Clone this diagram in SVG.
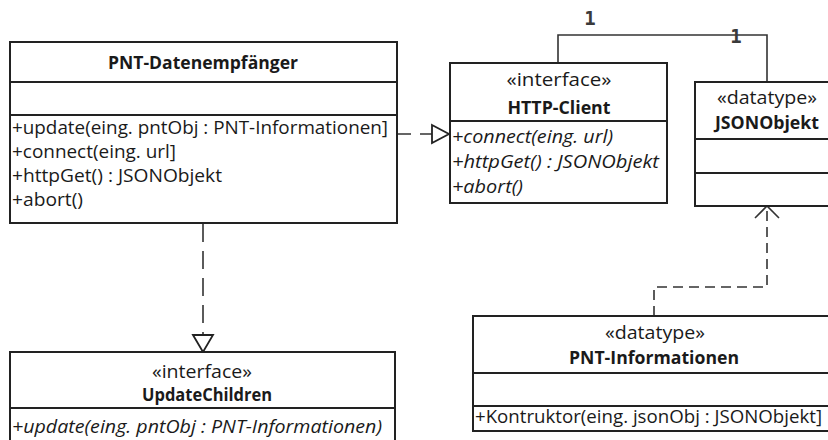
<svg xmlns="http://www.w3.org/2000/svg" width="828" height="440" viewBox="0 0 828 440">
  <style>
    .box { fill: #ffffff; stroke: #222222; stroke-width: 2; }
    .div { stroke: #222222; stroke-width: 2; fill: none; }
    .t { font-family: "Open Sans", "Liberation Sans", sans-serif; font-size: 18.5px; fill: #1a1a1a; }
    .b { font-weight: bold; }
    .i { font-style: italic; }
    .c { text-anchor: middle; }
    .line { stroke: #333333; stroke-width: 1.6; fill: none; }
    .dash1 { stroke-dasharray: 14 9; }
    .dash2 { stroke-dasharray: 18 9; }
    .dash3 { stroke-dasharray: 10 6; }
    .head { fill: #ffffff; stroke: #222222; stroke-width: 1.8; }
    .open { fill: none; stroke: #333333; stroke-width: 1.6; }
    .mult { font-family: "DejaVu Sans Mono", "Liberation Mono", monospace; font-size: 19px; font-weight: bold; fill: #3a3a3a; text-anchor: middle; }
  </style>

  <!-- connectors -->
  <g id="connectors">
    <!-- association HTTP-Client to JSONObjekt -->
    <path class="line" d="M558 63 V35 H767 V82"/>
    <text class="mult" x="590" y="25">1</text>
    <text class="mult" x="736" y="43">1</text>
    <!-- realization PNT-Datenempfaenger to HTTP-Client -->
    <path class="line dash1" d="M397 134 H432"/>
    <polygon class="head" points="432,125 449,134 432,143"/>
    <!-- realization PNT-Datenempfaenger to UpdateChildren -->
    <path class="line dash2" d="M203 224 V335"/>
    <polygon class="head" points="193,335 203,352 213,335"/>
    <!-- dependency PNT-Informationen to JSONObjekt -->
    <path class="line dash3" d="M654 316 V287 H767 V208"/>
    <polyline class="open" points="755,218 767,206 779,218"/>
  </g>

  <g id="pnt-datenempfaenger">
    <rect class="box" x="10" y="42" width="387" height="181"/>
    <line class="div" x1="10" y1="82" x2="397" y2="82"/>
    <line class="div" x1="10" y1="115" x2="397" y2="115"/>
    <text class="t b c" x="203" y="69" textLength="190" lengthAdjust="spacingAndGlyphs">PNT-Datenempfänger</text>
    <text class="t" x="12" y="134" textLength="376" lengthAdjust="spacingAndGlyphs">+update(eing. pntObj : PNT-Informationen]</text>
    <text class="t" x="12" y="158" textLength="164" lengthAdjust="spacingAndGlyphs">+connect(eing. url]</text>
    <text class="t" x="12" y="182" textLength="210" lengthAdjust="spacingAndGlyphs">+httpGet() : JSONObjekt</text>
    <text class="t" x="12" y="206" textLength="71" lengthAdjust="spacingAndGlyphs">+abort()</text>
  </g>

  <g id="http-client">
    <rect class="box" x="450" y="63" width="217" height="140"/>
    <line class="div" x1="450" y1="121" x2="667" y2="121"/>
    <text class="t c" x="559" y="86" textLength="105" lengthAdjust="spacingAndGlyphs">«interface»</text>
    <text class="t b c" x="559" y="114" textLength="103" lengthAdjust="spacingAndGlyphs">HTTP-Client</text>
    <text class="t i" x="452" y="143" textLength="161" lengthAdjust="spacingAndGlyphs">+connect(eing. url)</text>
    <text class="t i" x="452" y="168" textLength="207" lengthAdjust="spacingAndGlyphs">+httpGet() : JSONObjekt</text>
    <text class="t i" x="452" y="193" textLength="71" lengthAdjust="spacingAndGlyphs">+abort()</text>
  </g>

  <g id="jsonobjekt">
    <rect class="box" x="695" y="82" width="150" height="124"/>
    <line class="div" x1="695" y1="139" x2="845" y2="139"/>
    <line class="div" x1="695" y1="173" x2="845" y2="173"/>
    <text class="t c" x="767" y="104" textLength="100" lengthAdjust="spacingAndGlyphs">«datatype»</text>
    <text class="t b c" x="767" y="129" textLength="104" lengthAdjust="spacingAndGlyphs">JSONObjekt</text>
  </g>

  <g id="update-children">
    <rect class="box" x="10" y="352" width="385" height="100"/>
    <line class="div" x1="10" y1="408" x2="395" y2="408"/>
    <text class="t c" x="202" y="378" textLength="100" lengthAdjust="spacingAndGlyphs">«interface»</text>
    <text class="t b c" x="207" y="401" textLength="130" lengthAdjust="spacingAndGlyphs">UpdateChildren</text>
    <text class="t i" x="12" y="433" textLength="370" lengthAdjust="spacingAndGlyphs">+update(eing. pntObj : PNT-Informationen)</text>
  </g>

  <g id="pnt-informationen">
    <rect class="box" x="473" y="316" width="362" height="115"/>
    <line class="div" x1="473" y1="373" x2="835" y2="373"/>
    <line class="div" x1="473" y1="406" x2="835" y2="406"/>
    <text class="t c" x="655" y="339" textLength="100" lengthAdjust="spacingAndGlyphs">«datatype»</text>
    <text class="t b c" x="654" y="364" textLength="170" lengthAdjust="spacingAndGlyphs">PNT-Informationen</text>
    <text class="t" x="475" y="423" textLength="347" lengthAdjust="spacingAndGlyphs">+Kontruktor(eing. jsonObj : JSONObjekt]</text>
  </g>
</svg>
